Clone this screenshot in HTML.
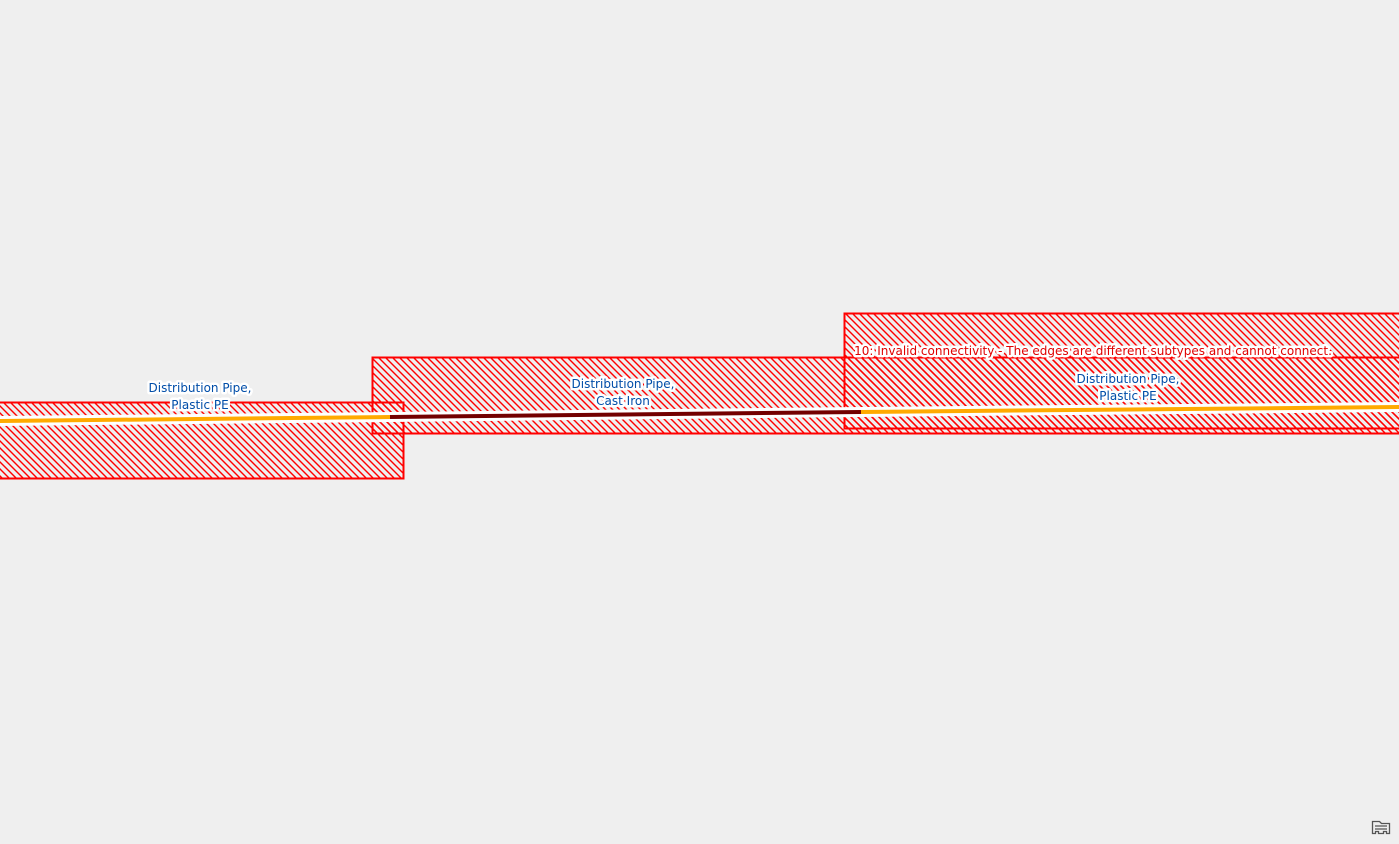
<!DOCTYPE html>
<html><head><meta charset="utf-8"><style>
html,body{margin:0;padding:0;background:#efefef;width:1399px;height:844px;overflow:hidden}
svg{display:block}
text{font-family:"DejaVu Sans","Liberation Sans",sans-serif;font-size:12px;paint-order:stroke;stroke:#fff;stroke-width:5px;stroke-linejoin:round}
</style></head><body>
<svg width="1399" height="844" viewBox="0 0 1399 844">
<defs>
<pattern id="h" patternUnits="userSpaceOnUse" width="7" height="7">
<line x1="-1" y1="-1" x2="8" y2="8" stroke="#f00" stroke-width="1.4"/>
<line x1="-8" y1="-1" x2="1" y2="8" stroke="#f00" stroke-width="1.4"/>
<line x1="6" y1="-1" x2="15" y2="8" stroke="#f00" stroke-width="1.4"/>
</pattern>
</defs>
<rect x="844.5" y="313.5" width="560" height="115" fill="url(#h)" stroke="#f00" stroke-width="2"/>
<rect x="372.5" y="357.5" width="1030" height="76" fill="url(#h)" stroke="#f00" stroke-width="2"/>
<rect x="-5" y="402.5" width="408.5" height="76" fill="url(#h)" stroke="#f00" stroke-width="2"/>
<polyline points="0,421 390,417 861,412 1399,407" fill="none" stroke="#fff" stroke-width="10"/>
<line x1="0" y1="421" x2="390" y2="417" stroke="#ffaa00" stroke-width="4"/>
<line x1="390" y1="417" x2="861" y2="412" stroke="#730000" stroke-width="4"/>
<line x1="861" y1="412" x2="1399" y2="407" stroke="#ffaa00" stroke-width="4"/>
<g fill="#004da8" text-anchor="middle">
<text x="200" y="392">Distribution Pipe,</text>
<text x="200" y="409">Plastic PE</text>
<text x="623" y="388">Distribution Pipe,</text>
<text x="623" y="405">Cast Iron</text>
<text x="1128" y="383">Distribution Pipe,</text>
<text x="1128" y="400">Plastic PE</text>
<text x="1093" y="355" fill="#e00000">10: Invalid connectivity - The edges are different subtypes and cannot connect.</text>
</g>
<g fill="none" stroke="#555" stroke-width="1.3">
<path d="M1372.5,821.5 h7 l2,2 h8 v10 h-3 v-2 h-3 v2 h-5 v-2 h-3 v2 h-3 z"/>
<path d="M1375,826 h12 M1375,829 h12"/>
</g>
</svg>
</body></html>
